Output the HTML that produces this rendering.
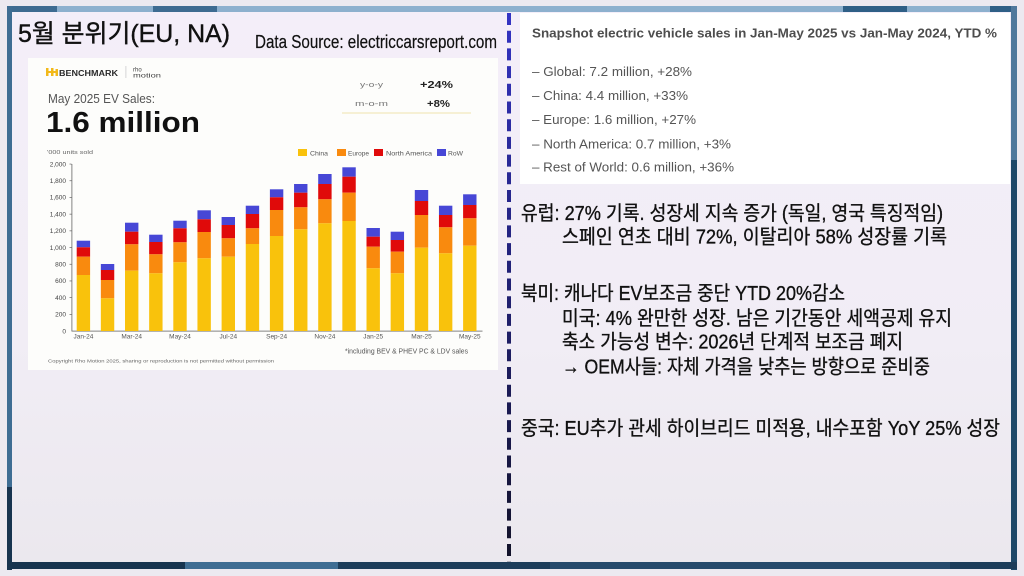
<!DOCTYPE html>
<html><head><meta charset="utf-8"><style>
html,body{margin:0;padding:0;background:#ece9f0;}
svg{display:block;}
.k{font-family:"Liberation Sans","Noto Sans CJK KR",sans-serif;}
.l{font-family:"Liberation Sans","DejaVu Sans",sans-serif;}
</style></head><body>
<svg width="1024" height="576" viewBox="0 0 1024 576" xmlns="http://www.w3.org/2000/svg">
<defs>
<linearGradient id="bg" x1="0" y1="0" x2="0" y2="1">
<stop offset="0" stop-color="#f4eef9"/><stop offset="0.6" stop-color="#f1edf5"/><stop offset="1" stop-color="#ebe8ee"/>
</linearGradient>
<linearGradient id="dash" gradientUnits="userSpaceOnUse" x1="0" y1="13" x2="0" y2="562">
<stop offset="0" stop-color="#3434c4"/><stop offset="0.45" stop-color="#22227a"/><stop offset="1" stop-color="#121228"/>
</linearGradient>
</defs>
<rect x="0" y="0" width="1024" height="576" fill="#ece9f0"/>
<rect x="12" y="12" width="999" height="550" fill="url(#bg)"/>

<!-- dashed divider -->
<line x1="509" y1="13" x2="509" y2="569" stroke="url(#dash)" stroke-width="4" stroke-dasharray="12 5.7"/>

<!-- borders -->
<rect x="7" y="6" width="50" height="6" fill="#3e6b91"/>
<rect x="57" y="6" width="96" height="6" fill="#8db0ce"/>
<rect x="153" y="6" width="64" height="6" fill="#3e6b91"/>
<rect x="217" y="6" width="626" height="6" fill="#8db0ce"/>
<rect x="843" y="6" width="64" height="6" fill="#2f5f86"/>
<rect x="907" y="6" width="83" height="6" fill="#8db0ce"/>
<rect x="990" y="6" width="27" height="6" fill="#2f5f86"/>
<rect x="7" y="6" width="5" height="481" fill="#3e6d93"/>
<rect x="7" y="487" width="5" height="83" fill="#17344f"/>
<rect x="1011" y="6" width="6" height="154" fill="#4f789c"/>
<rect x="1011" y="160" width="6" height="410" fill="#1e4868"/>
<rect x="7" y="562" width="178" height="7" fill="#17344f"/>
<rect x="185" y="562" width="153" height="7" fill="#3f6d93"/>
<rect x="338" y="562" width="212" height="7" fill="#1d3d5a"/>
<rect x="550" y="562" width="400" height="7" fill="#264a6c"/>
<rect x="950" y="562" width="67" height="7" fill="#1d3d5a"/>

<!-- Title -->
<text class="k" x="18" y="42" font-size="25" fill="#111" stroke="#111" stroke-width="0.4" textLength="212" lengthAdjust="spacingAndGlyphs">5월 분위기(EU, NA)</text>
<text class="k" x="255" y="48" font-size="18" fill="#111" stroke="#111" stroke-width="0.2" textLength="242" lengthAdjust="spacingAndGlyphs">Data Source: electriccarsreport.com</text>

<!-- Chart image -->
<rect x="28" y="58" width="470" height="312" fill="#fdfdfb"/>
<g fill="#f2b91a">
<rect x="46" y="68" width="2.5" height="8"/><rect x="51" y="68" width="2.5" height="8"/><rect x="46" y="71" width="12" height="2"/><rect x="55.5" y="69" width="2.5" height="7"/>
</g>
<text class="l" x="59" y="76" font-size="8" font-weight="bold" fill="#2a2a2a" textLength="59" lengthAdjust="spacingAndGlyphs">BENCHMARK</text>
<rect x="125.5" y="66" width="0.8" height="12" fill="#ccc"/>
<text class="l" x="133" y="71.5" font-size="6" fill="#444">rho</text>
<text class="l" x="133" y="77.5" font-size="6" fill="#444" textLength="28" lengthAdjust="spacingAndGlyphs">motion</text>
<text class="l" x="48" y="103" font-size="12.5" fill="#555" textLength="107" lengthAdjust="spacingAndGlyphs">May 2025 EV Sales:</text>
<text class="l" x="46" y="132" font-size="29" font-weight="bold" fill="#111" textLength="154" lengthAdjust="spacingAndGlyphs">1.6 million</text>
<text class="l" x="360" y="87" font-size="7.5" fill="#777" textLength="23" lengthAdjust="spacingAndGlyphs">y-o-y</text>
<text class="l" x="420" y="88" font-size="10" font-weight="bold" fill="#222" textLength="33" lengthAdjust="spacingAndGlyphs">+24%</text>
<text class="l" x="355" y="106" font-size="7.5" fill="#777" textLength="33" lengthAdjust="spacingAndGlyphs">m-o-m</text>
<text class="l" x="427" y="107" font-size="10" font-weight="bold" fill="#222" textLength="23" lengthAdjust="spacingAndGlyphs">+8%</text>
<rect x="342" y="112.5" width="129" height="1" fill="#efe2ae"/>
<text class="l" x="47" y="154" font-size="5.5" fill="#666" textLength="46" lengthAdjust="spacingAndGlyphs">'000 units sold</text>

<!-- legend -->
<rect x="298" y="149" width="9" height="7" fill="#f9c20c"/>
<text class="l" x="310" y="155.5" font-size="6" fill="#555" textLength="18" lengthAdjust="spacingAndGlyphs">China</text>
<rect x="337" y="149" width="9" height="7" fill="#f98a0e"/>
<text class="l" x="348" y="155.5" font-size="6" fill="#555" textLength="21" lengthAdjust="spacingAndGlyphs">Europe</text>
<rect x="374" y="149" width="9" height="7" fill="#e00a0a"/>
<text class="l" x="386" y="155.5" font-size="6" fill="#555" textLength="46" lengthAdjust="spacingAndGlyphs">North America</text>
<rect x="437" y="149" width="9" height="7" fill="#4747d6"/>
<text class="l" x="448" y="155.5" font-size="6" fill="#555" textLength="15" lengthAdjust="spacingAndGlyphs">RoW</text>

<!-- axes -->
<g class="l" font-size="6.5" fill="#444" text-anchor="end">
<text x="66" y="166.3">2,000</text><text x="66" y="183">1,800</text><text x="66" y="199.7">1,600</text><text x="66" y="216.4">1,400</text><text x="66" y="233.1">1,200</text><text x="66" y="249.8">1,000</text><text x="66" y="266.5">800</text><text x="66" y="283.2">600</text><text x="66" y="299.9">400</text><text x="66" y="316.6">200</text><text x="66" y="333.3">0</text>
</g>
<rect x="71.5" y="164" width="0.8" height="167.5" fill="#666"/>
<rect x="71.5" y="330.7" width="411" height="0.8" fill="#666"/>
<g fill="#666">
<rect x="69.5" y="163.7" width="2" height="0.7"/><rect x="69.5" y="180.4" width="2" height="0.7"/><rect x="69.5" y="197.1" width="2" height="0.7"/><rect x="69.5" y="213.8" width="2" height="0.7"/><rect x="69.5" y="230.5" width="2" height="0.7"/><rect x="69.5" y="247.2" width="2" height="0.7"/><rect x="69.5" y="263.9" width="2" height="0.7"/><rect x="69.5" y="280.6" width="2" height="0.7"/><rect x="69.5" y="297.3" width="2" height="0.7"/><rect x="69.5" y="314" width="2" height="0.7"/>
</g>

<!-- bars -->
<g>
<rect x="76.7" y="240.7" width="13.4" height="6.6" fill="#4747d6"/><rect x="76.7" y="247.3" width="13.4" height="9.4" fill="#e00a0a"/><rect x="76.7" y="256.7" width="13.4" height="18.3" fill="#f98a0e"/><rect x="76.7" y="275" width="13.4" height="56" fill="#f9c20c"/>
<rect x="100.85" y="264" width="13.4" height="6" fill="#4747d6"/><rect x="100.85" y="270" width="13.4" height="10" fill="#e00a0a"/><rect x="100.85" y="280" width="13.4" height="18.3" fill="#f98a0e"/><rect x="100.85" y="298.3" width="13.4" height="32.7" fill="#f9c20c"/>
<rect x="125" y="222.7" width="13.4" height="9" fill="#4747d6"/><rect x="125" y="231.7" width="13.4" height="12.6" fill="#e00a0a"/><rect x="125" y="244.3" width="13.4" height="26.4" fill="#f98a0e"/><rect x="125" y="270.7" width="13.4" height="60.3" fill="#f9c20c"/>
<rect x="149.15" y="234.7" width="13.4" height="7.3" fill="#4747d6"/><rect x="149.15" y="242" width="13.4" height="12.3" fill="#e00a0a"/><rect x="149.15" y="254.3" width="13.4" height="19" fill="#f98a0e"/><rect x="149.15" y="273.3" width="13.4" height="57.7" fill="#f9c20c"/>
<rect x="173.3" y="220.7" width="13.4" height="7.6" fill="#4747d6"/><rect x="173.3" y="228.3" width="13.4" height="14" fill="#e00a0a"/><rect x="173.3" y="242.3" width="13.4" height="20" fill="#f98a0e"/><rect x="173.3" y="262.3" width="13.4" height="68.7" fill="#f9c20c"/>
<rect x="197.45" y="210.3" width="13.4" height="9" fill="#4747d6"/><rect x="197.45" y="219.3" width="13.4" height="12.7" fill="#e00a0a"/><rect x="197.45" y="232" width="13.4" height="26.3" fill="#f98a0e"/><rect x="197.45" y="258.3" width="13.4" height="72.7" fill="#f9c20c"/>
<rect x="221.6" y="217" width="13.4" height="8" fill="#4747d6"/><rect x="221.6" y="225" width="13.4" height="13.3" fill="#e00a0a"/><rect x="221.6" y="238.3" width="13.4" height="18.4" fill="#f98a0e"/><rect x="221.6" y="256.7" width="13.4" height="74.3" fill="#f9c20c"/>
<rect x="245.75" y="205.7" width="13.4" height="8.3" fill="#4747d6"/><rect x="245.75" y="214" width="13.4" height="14.3" fill="#e00a0a"/><rect x="245.75" y="228.3" width="13.4" height="15.7" fill="#f98a0e"/><rect x="245.75" y="244" width="13.4" height="87" fill="#f9c20c"/>
<rect x="269.9" y="189.3" width="13.4" height="8" fill="#4747d6"/><rect x="269.9" y="197.3" width="13.4" height="12.7" fill="#e00a0a"/><rect x="269.9" y="210" width="13.4" height="26" fill="#f98a0e"/><rect x="269.9" y="236" width="13.4" height="95" fill="#f9c20c"/>
<rect x="294.05" y="184" width="13.4" height="8.7" fill="#4747d6"/><rect x="294.05" y="192.7" width="13.4" height="14.6" fill="#e00a0a"/><rect x="294.05" y="207.3" width="13.4" height="22" fill="#f98a0e"/><rect x="294.05" y="229.3" width="13.4" height="101.7" fill="#f9c20c"/>
<rect x="318.2" y="174" width="13.4" height="10" fill="#4747d6"/><rect x="318.2" y="184" width="13.4" height="15.3" fill="#e00a0a"/><rect x="318.2" y="199.3" width="13.4" height="24" fill="#f98a0e"/><rect x="318.2" y="223.3" width="13.4" height="107.7" fill="#f9c20c"/>
<rect x="342.35" y="167.3" width="13.4" height="9.4" fill="#4747d6"/><rect x="342.35" y="176.7" width="13.4" height="16" fill="#e00a0a"/><rect x="342.35" y="192.7" width="13.4" height="28.3" fill="#f98a0e"/><rect x="342.35" y="221" width="13.4" height="110" fill="#f9c20c"/>
<rect x="366.5" y="228" width="13.4" height="8.7" fill="#4747d6"/><rect x="366.5" y="236.7" width="13.4" height="10" fill="#e00a0a"/><rect x="366.5" y="246.7" width="13.4" height="21.6" fill="#f98a0e"/><rect x="366.5" y="268.3" width="13.4" height="62.7" fill="#f9c20c"/>
<rect x="390.65" y="231.7" width="13.4" height="8.3" fill="#4747d6"/><rect x="390.65" y="240" width="13.4" height="11.7" fill="#e00a0a"/><rect x="390.65" y="251.7" width="13.4" height="21.6" fill="#f98a0e"/><rect x="390.65" y="273.3" width="13.4" height="57.7" fill="#f9c20c"/>
<rect x="414.8" y="190" width="13.4" height="11" fill="#4747d6"/><rect x="414.8" y="201" width="13.4" height="14" fill="#e00a0a"/><rect x="414.8" y="215" width="13.4" height="32.7" fill="#f98a0e"/><rect x="414.8" y="247.7" width="13.4" height="83.3" fill="#f9c20c"/>
<rect x="438.95" y="205.7" width="13.4" height="9.3" fill="#4747d6"/><rect x="438.95" y="215" width="13.4" height="12.3" fill="#e00a0a"/><rect x="438.95" y="227.3" width="13.4" height="26" fill="#f98a0e"/><rect x="438.95" y="253.3" width="13.4" height="77.7" fill="#f9c20c"/>
<rect x="463.1" y="194.3" width="13.4" height="10.7" fill="#4747d6"/><rect x="463.1" y="205" width="13.4" height="13.3" fill="#e00a0a"/><rect x="463.1" y="218.3" width="13.4" height="27.4" fill="#f98a0e"/><rect x="463.1" y="245.7" width="13.4" height="85.3" fill="#f9c20c"/>
</g>
<g class="l" font-size="6.5" fill="#555" text-anchor="middle">
<text x="83.4" y="338.5">Jan-24</text><text x="131.7" y="338.5">Mar-24</text><text x="180" y="338.5">May-24</text><text x="228.3" y="338.5">Jul-24</text><text x="276.6" y="338.5">Sep-24</text><text x="324.9" y="338.5">Nov-24</text><text x="373.2" y="338.5">Jan-25</text><text x="421.5" y="338.5">Mar-25</text><text x="469.8" y="338.5">May-25</text>
</g>
<text class="l" x="345" y="353.5" font-size="7" fill="#555" textLength="123" lengthAdjust="spacingAndGlyphs">*including BEV &amp; PHEV PC &amp; LDV sales</text>
<text class="l" x="48" y="362.5" font-size="4.8" fill="#666" textLength="226" lengthAdjust="spacingAndGlyphs">Copyright Rho Motion 2025, sharing or reproduction is not permitted without permission</text>

<!-- right snapshot box -->
<rect x="520" y="13" width="490" height="171" fill="#ffffff"/>
<text class="l" x="532" y="37.3" font-size="12.5" font-weight="bold" fill="#4d4d4d" textLength="465" lengthAdjust="spacingAndGlyphs">Snapshot electric vehicle sales in Jan-May 2025 vs Jan-May 2024, YTD %</text>
<g class="l" font-size="13" fill="#555">
<text x="532" y="76" textLength="160" lengthAdjust="spacingAndGlyphs">– Global: 7.2 million, +28%</text>
<text x="532" y="100" textLength="156" lengthAdjust="spacingAndGlyphs">– China: 4.4 million, +33%</text>
<text x="532" y="124" textLength="164" lengthAdjust="spacingAndGlyphs">– Europe: 1.6 million, +27%</text>
<text x="532" y="148.3" textLength="199" lengthAdjust="spacingAndGlyphs">– North America: 0.7 million, +3%</text>
<text x="532" y="171.7" textLength="202" lengthAdjust="spacingAndGlyphs">– Rest of World: 0.6 million, +36%</text>
</g>

<!-- Korean notes -->
<g class="k" font-size="20" fill="#111" stroke="#111" stroke-width="0.35">
<text x="521" y="220" textLength="422" lengthAdjust="spacingAndGlyphs">유럽: 27% 기록. 성장세 지속 증가 (독일, 영국 특징적임)</text>
<text x="562" y="243.5" textLength="385" lengthAdjust="spacingAndGlyphs">스페인 연초 대비 72%, 이탈리아 58% 성장률 기록</text>
<text x="521" y="300" textLength="324" lengthAdjust="spacingAndGlyphs">북미: 캐나다 EV보조금 중단 YTD 20%감소</text>
<text x="562" y="325" textLength="390" lengthAdjust="spacingAndGlyphs">미국: 4% 완만한 성장. 남은 기간동안 세액공제 유지</text>
<text x="562" y="348.5" textLength="341" lengthAdjust="spacingAndGlyphs">축소 가능성 변수: 2026년 단계적 보조금 폐지</text>
<text x="562" y="373.5" textLength="368" lengthAdjust="spacingAndGlyphs">→ OEM사들: 자체 가격을 낮추는 방향으로 준비중</text>
<text x="521" y="435" textLength="479" lengthAdjust="spacingAndGlyphs">중국: EU추가 관세 하이브리드 미적용, 내수포함 YoY 25% 성장</text>
</g>
</svg>
</body></html>
